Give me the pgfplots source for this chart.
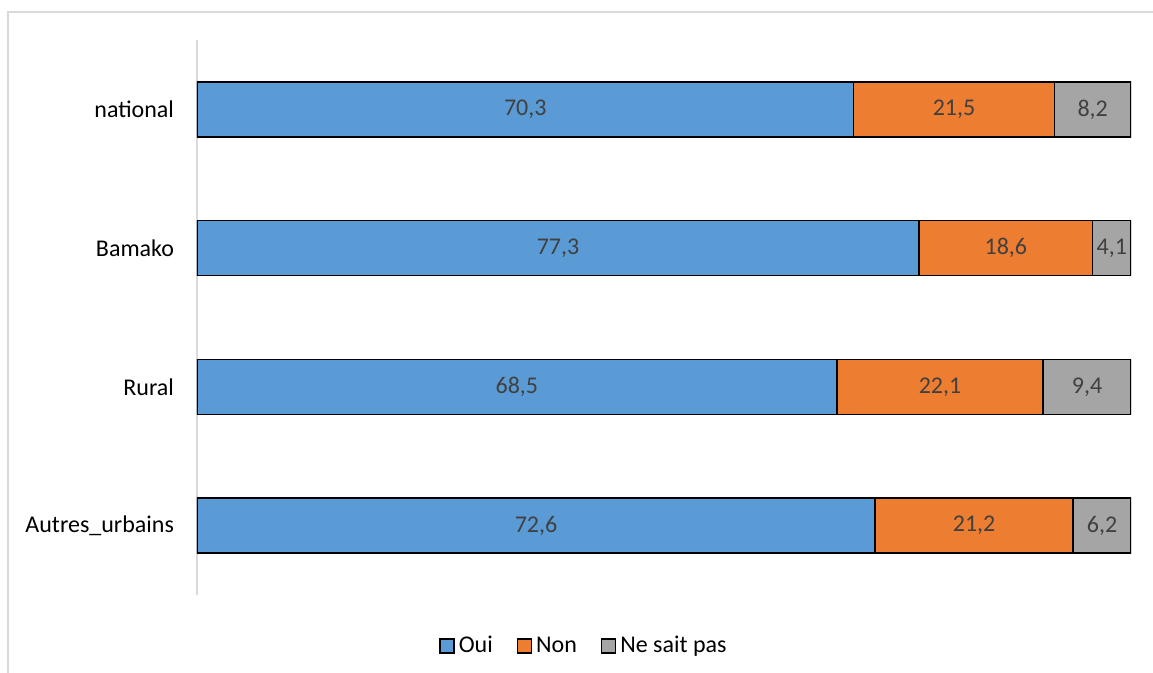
\documentclass[border=0pt]{standalone}
\usepackage{pgfplots}
\pgfplotsset{compat=1.18}
\usepackage{fontspec}
\setmainfont{Carlito}
\definecolor{oui}{HTML}{5B9BD5}
\definecolor{non}{HTML}{ED7D31}
\definecolor{nsp}{HTML}{A5A5A5}
\definecolor{axisgray}{HTML}{D9D9D9}
\definecolor{lblgray}{HTML}{404040}
\begin{document}
\begin{tikzpicture}
\path[use as bounding box] (0,0) rectangle (576.5pt,336.5pt);
\draw[axisgray, line width=0.6pt] (4pt,0) -- (4pt,330.5pt) -- (576.5pt,330.5pt);
\begin{axis}[
  at={(98.5pt,39pt)}, anchor=south west,
  scale only axis, width=467pt, height=277.5pt,
  xbar stacked, bar width=27.5pt,
  xmin=0, xmax=100, ymin=-0.5, ymax=3.5, y dir=reverse,
  ytick={0,1,2,3}, yticklabels={national,Bamako,Rural,Autres\_urbains},
  xtick=\empty,
  separate axis lines,
  axis x line=none,
  axis y line*=left,
  axis line style={-},
  y axis line style={axisgray, line width=0.75pt},
  major tick length=0pt,
  yticklabel style={font=\fontsize{12}{14}\selectfont, xshift=-8pt, text=black},
  visualization depends on={rawx \as \rawx},
  nodes near coords={\pgfmathprintnumber[fixed, fixed zerofill, precision=1, use comma, assume math mode=true]{\rawx}},
  every node near coord/.append style={anchor=center, font=\fontsize{12}{14}\selectfont, text=lblgray},
  legend style={at={(axis description cs:0.4154,-0.0919)}, anchor=center, draw=none, legend columns=-1,
    font=\fontsize{12}{14}\selectfont,
    /tikz/every even column/.append style={column sep=10pt}},
  legend image code/.code={\draw[#1, draw=black, line width=0.7pt] (0pt,-3.5pt) rectangle (7pt,3.5pt);},
]
\addplot[fill=oui, draw=black, line width=0.75pt] coordinates {(70.3,0) (77.3,1) (68.5,2) (72.6,3)};
\addlegendentry{Oui}
\addplot[fill=non, draw=black, line width=0.75pt] coordinates {(21.5,0) (18.6,1) (22.1,2) (21.2,3)};
\addlegendentry{Non}
\addplot[fill=nsp, draw=black, line width=0.75pt] coordinates {(8.2,0) (4.1,1) (9.4,2) (6.2,3)};
\addlegendentry{Ne sait pas}
\end{axis}
\end{tikzpicture}
\end{document}
